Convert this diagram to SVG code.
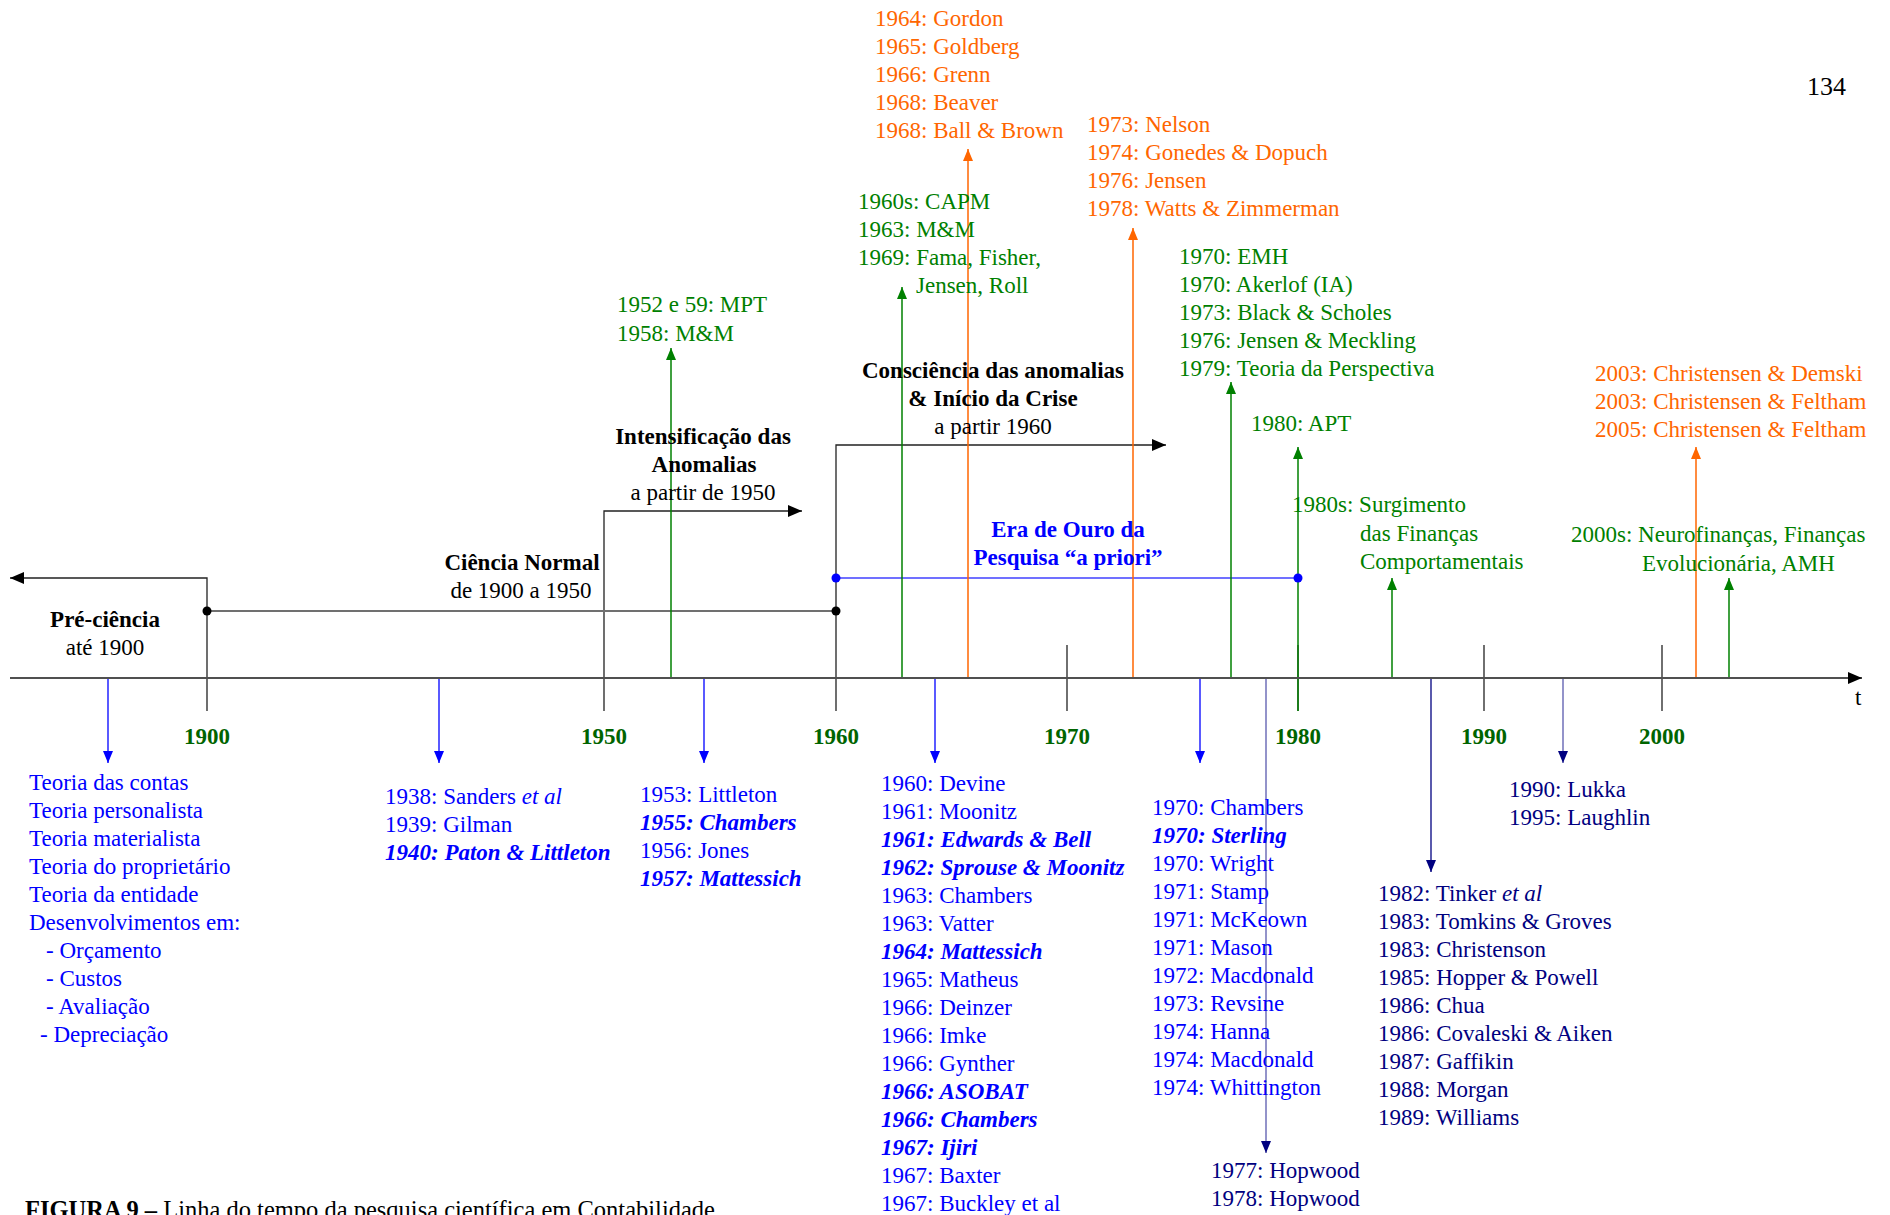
<svg xmlns="http://www.w3.org/2000/svg" width="1890" height="1215" viewBox="0 0 1890 1215">
<style>
text{font-family:"Liberation Serif","Times New Roman",serif;font-size:23px}
.g{fill:#008000}.o{fill:#FF6600}.b{fill:#0000FF}.n{fill:#000080}.k{fill:#000}
.bd{font-weight:bold}.bi{font-weight:bold;font-style:italic}.it{font-style:italic}
.yr{font-weight:bold;fill:#006400;text-anchor:middle}
.mid{text-anchor:middle}
.la{stroke:#008000;stroke-width:1.5;fill:none}
.lo{stroke:#FF6600;stroke-width:1.5;fill:none}
.lb{stroke:#0000FF;stroke-width:1.3;fill:none}
.ls{stroke:#6f6fb8;stroke-width:1.5;fill:none}
.ln{stroke:#000080;stroke-width:1.3;fill:none}
.lk{stroke:#222;stroke-width:1.3;fill:none}
</style>
<defs>
<marker id="ag" markerUnits="userSpaceOnUse" markerWidth="12" markerHeight="10" viewBox="0 0 12 10" refX="12" refY="5" orient="auto"><path d="M0,0 L12,5 L0,10 z" fill="#008000"/></marker>
<marker id="ao" markerUnits="userSpaceOnUse" markerWidth="12" markerHeight="10" viewBox="0 0 12 10" refX="12" refY="5" orient="auto"><path d="M0,0 L12,5 L0,10 z" fill="#FF6600"/></marker>
<marker id="ab" markerUnits="userSpaceOnUse" markerWidth="12" markerHeight="10" viewBox="0 0 12 10" refX="12" refY="5" orient="auto"><path d="M0,0 L12,5 L0,10 z" fill="#0000FF"/></marker>
<marker id="an" markerUnits="userSpaceOnUse" markerWidth="12" markerHeight="10" viewBox="0 0 12 10" refX="12" refY="5" orient="auto"><path d="M0,0 L12,5 L0,10 z" fill="#000080"/></marker>
<marker id="ak" markerUnits="userSpaceOnUse" markerWidth="14" markerHeight="12" viewBox="0 0 14 12" refX="14" refY="6" orient="auto"><path d="M0,0 L14,6 L0,12 z" fill="#000"/></marker>
</defs>
<rect width="1890" height="1215" fill="#fff"/>

<g id="connectors">
  <!-- period brackets -->
  <path class="lk" d="M207,711 V578 H10" marker-end="url(#ak)"/>
  <path class="lk" d="M604,711 V511 H802" marker-end="url(#ak)"/>
  <path class="lk" d="M836,711 V445 H1166" marker-end="url(#ak)"/>
  <line x1="207" y1="611" x2="836" y2="611" stroke="#707070" stroke-width="2.2"/>
  <line x1="836" y1="578" x2="1298" y2="578" stroke="#7070FF" stroke-width="2"/>
  <!-- decade ticks -->
  <line class="lk" x1="1067" y1="645" x2="1067" y2="711"/>
  <line class="lk" x1="1298" y1="645" x2="1298" y2="711"/>
  <line class="lk" x1="1484" y1="645" x2="1484" y2="711"/>
  <line class="lk" x1="1662" y1="645" x2="1662" y2="711"/>
  <!-- up arrows -->
  <line class="la" x1="671" y1="678" x2="671" y2="348" marker-end="url(#ag)"/>
  <line class="la" x1="902" y1="678" x2="902" y2="287" marker-end="url(#ag)"/>
  <line class="lo" x1="968" y1="678" x2="968" y2="149" marker-end="url(#ao)"/>
  <line class="lo" x1="1133" y1="678" x2="1133" y2="228" stroke="#FF8A40" marker-end="url(#ao)"/>
  <line class="la" x1="1231" y1="678" x2="1231" y2="382" marker-end="url(#ag)"/>
  <line class="la" x1="1298" y1="711" x2="1298" y2="447" marker-end="url(#ag)"/>
  <line class="la" x1="1392" y1="678" x2="1392" y2="578" stroke="#3a9a3a" marker-end="url(#ag)"/>
  <line class="lo" x1="1696" y1="678" x2="1696" y2="447" stroke="#FF8A40" marker-end="url(#ao)"/>
  <line class="la" x1="1729" y1="678" x2="1729" y2="578" stroke="#3a9a3a" marker-end="url(#ag)"/>
  <!-- down arrows -->
  <line class="lb" x1="108" y1="678" x2="108" y2="763" marker-end="url(#ab)"/>
  <line class="lb" x1="439" y1="678" x2="439" y2="763" marker-end="url(#ab)"/>
  <line class="lb" x1="704" y1="678" x2="704" y2="763" marker-end="url(#ab)"/>
  <line class="lb" x1="935" y1="678" x2="935" y2="763" marker-end="url(#ab)"/>
  <line class="lb" x1="1200" y1="678" x2="1200" y2="763" stroke="#6a6aff" marker-end="url(#ab)"/>
  <line class="ls" x1="1266" y1="678" x2="1266" y2="1153" marker-end="url(#an)"/>
  <line class="ln" x1="1431" y1="678" x2="1431" y2="872" marker-end="url(#an)"/>
  <line class="ls" x1="1563" y1="678" x2="1563" y2="763" marker-end="url(#an)"/>
  <!-- main axis -->
  <line x1="10" y1="678" x2="1862" y2="678" stroke="#505050" stroke-width="2.2" marker-end="url(#ak)"/>
  <!-- dots -->
  <circle cx="207" cy="611" r="4.5" fill="#000"/>
  <circle cx="836" cy="611" r="4.5" fill="#000"/>
  <circle cx="836" cy="578" r="4.5" fill="#0000FF"/>
  <circle cx="1298" cy="578" r="4.5" fill="#0000FF"/>
</g>

<g id="axis-labels">
  <text class="yr" x="207" y="744">1900</text>
  <text class="yr" x="604" y="744">1950</text>
  <text class="yr" x="836" y="744">1960</text>
  <text class="yr" x="1067" y="744">1970</text>
  <text class="yr" x="1298" y="744">1980</text>
  <text class="yr" x="1484" y="744">1990</text>
  <text class="yr" x="1662" y="744">2000</text>
  <text class="k" x="1855" y="705">t</text>
  <text class="k" x="1807" y="95" style="font-size:26px">134</text>
</g>

<g id="periods">
  <g id="pre-ciencia">
    <text class="k bd mid" x="105" y="627">Pré-ciência</text>
    <text class="k mid" x="105" y="655">até 1900</text>
  </g>
  <g id="ciencia-normal">
    <text class="k bd mid" x="522" y="570">Ciência Normal</text>
    <text class="k mid" x="521" y="598">de 1900 a 1950</text>
  </g>
  <g id="intensificacao">
    <text class="k bd mid" x="703" y="444">Intensificação das</text>
    <text class="k bd mid" x="704" y="472">Anomalias</text>
    <text class="k mid" x="703" y="500">a partir de 1950</text>
  </g>
  <g id="consciencia">
    <text class="k bd mid" x="993" y="378">Consciência das anomalias</text>
    <text class="k bd mid" x="993" y="406">&amp; Início da Crise</text>
    <text class="k mid" x="993" y="434">a partir 1960</text>
  </g>
  <g id="era-de-ouro">
    <text class="b bd mid" x="1068" y="537">Era de Ouro da</text>
    <text class="b bd mid" x="1068" y="565">Pesquisa “a priori”</text>
  </g>
</g>

<g id="finance-above">
  <g id="mpt">
    <text class="g" x="617" y="312">1952 e 59: MPT</text>
    <text class="g" x="617" y="341">1958: M&amp;M</text>
  </g>
  <g id="capm">
    <text class="g" x="858" y="209">1960s: CAPM</text>
    <text class="g" x="858" y="237">1963: M&amp;M</text>
    <text class="g" x="858" y="265">1969: Fama, Fisher,</text>
    <text class="g" x="916" y="293">Jensen, Roll</text>
  </g>
  <g id="gordon">
    <text class="o" x="875" y="26">1964: Gordon</text>
    <text class="o" x="875" y="54">1965: Goldberg</text>
    <text class="o" x="875" y="82">1966: Grenn</text>
    <text class="o" x="875" y="110">1968: Beaver</text>
    <text class="o" x="875" y="138">1968: Ball &amp; Brown</text>
  </g>
  <g id="nelson">
    <text class="o" x="1087" y="132">1973: Nelson</text>
    <text class="o" x="1087" y="160">1974: Gonedes &amp; Dopuch</text>
    <text class="o" x="1087" y="188">1976: Jensen</text>
    <text class="o" x="1087" y="216">1978: Watts &amp; Zimmerman</text>
  </g>
  <g id="emh">
    <text class="g" x="1179" y="264">1970: EMH</text>
    <text class="g" x="1179" y="292">1970: Akerlof (IA)</text>
    <text class="g" x="1179" y="320">1973: Black &amp; Scholes</text>
    <text class="g" x="1179" y="348">1976: Jensen &amp; Meckling</text>
    <text class="g" x="1179" y="376">1979: Teoria da Perspectiva</text>
  </g>
  <g id="apt">
    <text class="g" x="1251" y="431">1980: APT</text>
  </g>
  <g id="comportamentais">
    <text class="g" x="1292" y="512">1980s: Surgimento</text>
    <text class="g" x="1360" y="541">das Finanças</text>
    <text class="g" x="1360" y="569">Comportamentais</text>
  </g>
  <g id="christensen">
    <text class="o" x="1595" y="381">2003: Christensen &amp; Demski</text>
    <text class="o" x="1595" y="409">2003: Christensen &amp; Feltham</text>
    <text class="o" x="1595" y="437">2005: Christensen &amp; Feltham</text>
  </g>
  <g id="neurofinancas">
    <text class="g" x="1571" y="542">2000s: Neurofinanças, Finanças</text>
    <text class="g" x="1642" y="571">Evolucionária, AMH</text>
  </g>
</g>

<g id="accounting-below">
  <g id="teorias">
    <text class="b" x="29" y="790">Teoria das contas</text>
    <text class="b" x="29" y="818">Teoria personalista</text>
    <text class="b" x="29" y="846">Teoria materialista</text>
    <text class="b" x="29" y="874">Teoria do proprietário</text>
    <text class="b" x="29" y="902">Teoria da entidade</text>
    <text class="b" x="29" y="930">Desenvolvimentos em:</text>
    <text class="b" x="46" y="958">- Orçamento</text>
    <text class="b" x="46" y="986">- Custos</text>
    <text class="b" x="46" y="1014">- Avaliação</text>
    <text class="b" x="40" y="1042">- Depreciação</text>
  </g>
  <g id="sanders">
    <text class="b" x="385" y="804">1938: Sanders <tspan class="it">et al</tspan></text>
    <text class="b" x="385" y="832">1939: Gilman</text>
    <text class="b bi" x="385" y="860">1940: Paton &amp; Littleton</text>
  </g>
  <g id="littleton">
    <text class="b" x="640" y="802">1953: Littleton</text>
    <text class="b bi" x="640" y="830">1955: Chambers</text>
    <text class="b" x="640" y="858">1956: Jones</text>
    <text class="b bi" x="640" y="886">1957: Mattessich</text>
  </g>
  <g id="devine">
    <text class="b" x="881" y="791">1960: Devine</text>
    <text class="b" x="881" y="819">1961: Moonitz</text>
    <text class="b bi" x="881" y="847">1961: Edwards &amp; Bell</text>
    <text class="b bi" x="881" y="875">1962: Sprouse &amp; Moonitz</text>
    <text class="b" x="881" y="903">1963: Chambers</text>
    <text class="b" x="881" y="931">1963: Vatter</text>
    <text class="b bi" x="881" y="959">1964: Mattessich</text>
    <text class="b" x="881" y="987">1965: Matheus</text>
    <text class="b" x="881" y="1015">1966: Deinzer</text>
    <text class="b" x="881" y="1043">1966: Imke</text>
    <text class="b" x="881" y="1071">1966: Gynther</text>
    <text class="b bi" x="881" y="1099">1966: ASOBAT</text>
    <text class="b bi" x="881" y="1127">1966: Chambers</text>
    <text class="b bi" x="881" y="1155">1967: Ijiri</text>
    <text class="b" x="881" y="1183">1967: Baxter</text>
    <text class="b" x="881" y="1211">1967: Buckley et al</text>
  </g>
  <g id="chambers70">
    <text class="b" x="1152" y="815">1970: Chambers</text>
    <text class="b bi" x="1152" y="843">1970: Sterling</text>
    <text class="b" x="1152" y="871">1970: Wright</text>
    <text class="b" x="1152" y="899">1971: Stamp</text>
    <text class="b" x="1152" y="927">1971: McKeown</text>
    <text class="b" x="1152" y="955">1971: Mason</text>
    <text class="b" x="1152" y="983">1972: Macdonald</text>
    <text class="b" x="1152" y="1011">1973: Revsine</text>
    <text class="b" x="1152" y="1039">1974: Hanna</text>
    <text class="b" x="1152" y="1067">1974: Macdonald</text>
    <text class="b" x="1152" y="1095">1974: Whittington</text>
  </g>
  <g id="hopwood">
    <text class="n" x="1211" y="1178">1977: Hopwood</text>
    <text class="n" x="1211" y="1206">1978: Hopwood</text>
  </g>
  <g id="tinker">
    <text class="n" x="1378" y="901">1982: Tinker <tspan class="it">et al</tspan></text>
    <text class="n" x="1378" y="929">1983: Tomkins &amp; Groves</text>
    <text class="n" x="1378" y="957">1983: Christenson</text>
    <text class="n" x="1378" y="985">1985: Hopper &amp; Powell</text>
    <text class="n" x="1378" y="1013">1986: Chua</text>
    <text class="n" x="1378" y="1041">1986: Covaleski &amp; Aiken</text>
    <text class="n" x="1378" y="1069">1987: Gaffikin</text>
    <text class="n" x="1378" y="1097">1988: Morgan</text>
    <text class="n" x="1378" y="1125">1989: Williams</text>
  </g>
  <g id="lukka">
    <text class="n" x="1509" y="797">1990: Lukka</text>
    <text class="n" x="1509" y="825">1995: Laughlin</text>
  </g>
</g>

<g id="caption">
  <text class="k" x="25" y="1218" style="font-size:24.5px"><tspan class="bd">FIGURA 9 –</tspan> Linha do tempo da pesquisa científica em Contabilidade</text>
</g>
</svg>
